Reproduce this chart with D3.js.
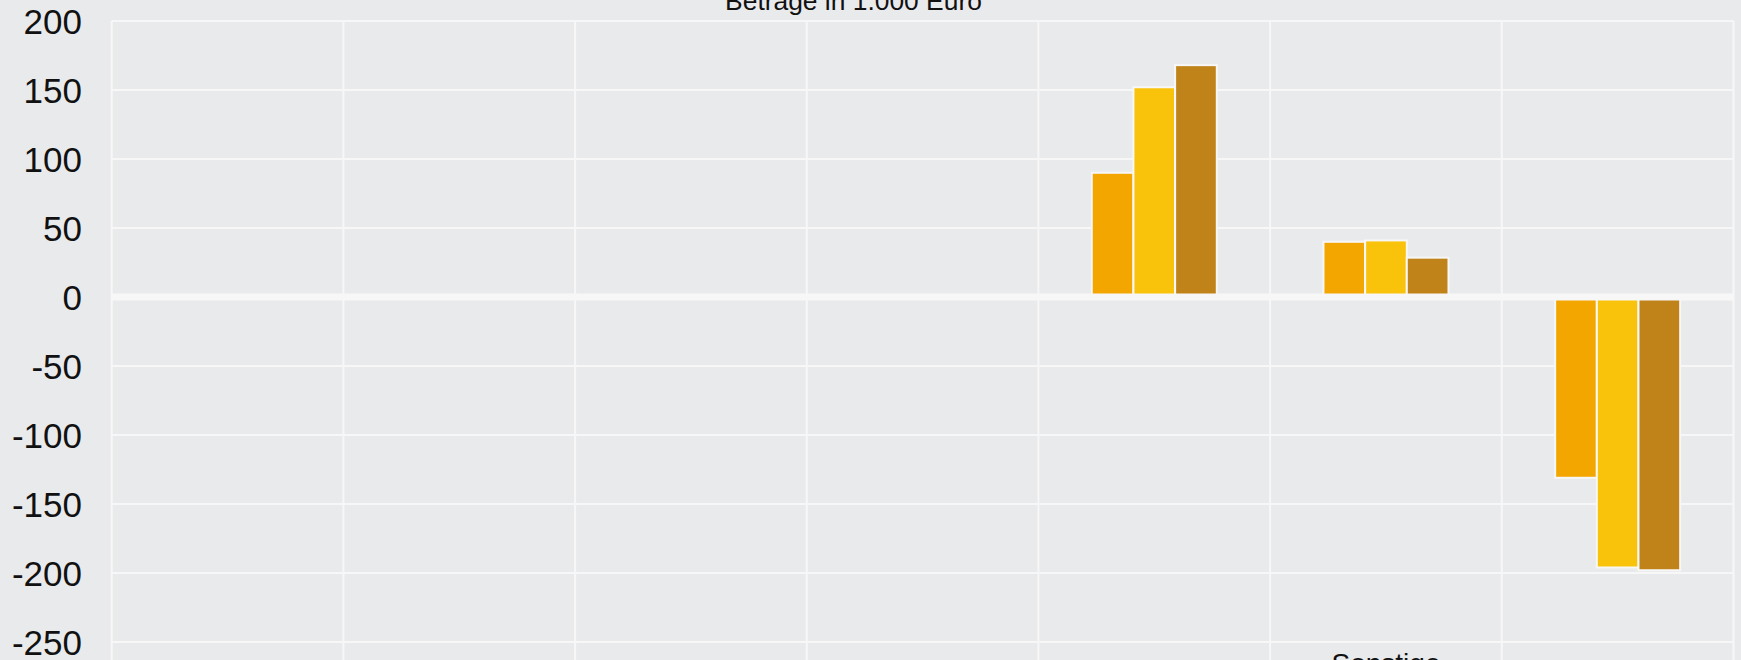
<!DOCTYPE html>
<html>
<head>
<meta charset="utf-8">
<script src="https://cdn.jsdelivr.net/npm/d3@7"></script>
<style>
    body { margin: 0; background: #e9eaec; }
    svg { display: block; font-family: "Liberation Sans", Arial, sans-serif; }
</style>
</head>
<body>
<svg id="chart"></svg>
<script>
// data
const categories = ["k1", "k2", "k3", "k4", "k5", "k6", "k7"];
const tickLabels = ["", "", "", "", "", "Sonstige", ""];
const seriesNames = ["s1", "s2", "s3"];
const series1 = [null, null, null, null, 90, 40, -131];
const series2 = [null, null, null, null, 152, 41, -196];
const series3 = [null, null, null, null, 168, 28.5, -198];
const yTicks = [200, 150, 100, 50, 0, -50, -100, -150, -200, -250];
const colors = ["#f4a600", "#fac30b", "#c0831a"];
const title = "Beträge in 1.000 Euro";

class GroupedBars {
    margin = {
        top: 21, right: 7.5, bottom: 18, left: 111.7
    }

    constructor(svg, width = 1741, height = 660) {
        this.svg = svg;
        this.width = width;
        this.height = height;
    }

    initialize() {
        this.svg = d3.select(this.svg)
            .attr("width", this.width)
            .attr("height", this.height);

        this.svg.append("rect")
            .attr("width", this.width)
            .attr("height", this.height)
            .attr("fill", "#e9eaec");

        this.innerW = this.width - this.margin.left - this.margin.right;
        this.innerH = this.height - this.margin.top - this.margin.bottom;

        this.xScale = d3.scaleBand().domain(categories)
            .range([this.margin.left, this.margin.left + this.innerW]).padding(0);
        this.x1Scale = d3.scaleBand().domain(seriesNames)
            .range([0, this.xScale.bandwidth()]).paddingInner(0).paddingOuter(1.28);
        this.yScale = d3.scaleLinear().domain([-250, 200])
            .range([this.margin.top + this.innerH, this.margin.top]);
        this.zScale = d3.scaleOrdinal().domain(seriesNames).range(colors);

        this.grid = this.svg.append("g");
        this.container = this.svg.append("g");
        this.zero = this.svg.append("g");
        this.yAxis = this.svg.append("g");
        this.xAxis = this.svg.append("g");
    }

    update() {
        const y = this.yScale;
        const x = this.xScale;
        const x0 = this.margin.left, x1 = this.margin.left + this.innerW;

        // horizontal grid lines
        this.grid.selectAll("line.h")
            .data(yTicks.filter(d => d !== 0))
            .join("line")
            .attr("class", "h")
            .attr("x1", x0).attr("x2", x1)
            .attr("y1", d => y(d)).attr("y2", d => y(d))
            .attr("stroke", "#f7f7f7")
            .attr("stroke-width", 2);

        // vertical grid lines at category boundaries
        const bounds = categories.map(c => x(c)).concat([x1]);
        this.grid.selectAll("line.v")
            .data(bounds)
            .join("line")
            .attr("class", "v")
            .attr("x1", d => d).attr("x2", d => d)
            .attr("y1", this.margin.top).attr("y2", this.height)
            .attr("stroke", "#f7f7f7")
            .attr("stroke-width", 2);

        const rows = [];
        categories.forEach((c, i) => {
            [series1, series2, series3].forEach((s, j) => {
                if (s[i] !== null) rows.push({ cat: c, key: seriesNames[j], value: s[i] });
            });
        });

        this.container.selectAll("rect")
            .data(rows)
            .join("rect")
            .attr("x", d => x(d.cat) + this.x1Scale(d.key))
            .attr("y", d => y(Math.max(0, d.value)))
            .attr("width", this.x1Scale.bandwidth())
            .attr("height", d => Math.abs(y(d.value) - y(0)))
            .attr("fill", d => this.zScale(d.key))
            .attr("stroke", "#f7f7f7")
            .attr("stroke-width", 2);

        // thick zero line drawn over the bars
        this.zero.append("line")
            .attr("x1", x0).attr("x2", x1)
            .attr("y1", y(0)).attr("y2", y(0))
            .attr("stroke", "#f7f7f7")
            .attr("stroke-width", 7);

        this.yAxis.selectAll("text")
            .data(yTicks)
            .join("text")
            .attr("x", 82)
            .attr("y", d => y(d))
            .attr("dy", "0.36em")
            .attr("text-anchor", "end")
            .attr("font-size", 35)
            .attr("fill", "#111")
            .text(d => d);

        this.xAxis.selectAll("text")
            .data(categories)
            .join("text")
            .attr("x", d => x(d) + x.bandwidth() / 2)
            .attr("y", 673)
            .attr("text-anchor", "middle")
            .attr("font-size", 28)
            .attr("fill", "#111")
            .text((d, i) => tickLabels[i]);

        this.svg.append("text")
            .attr("x", 853.5)
            .attr("y", 10)
            .attr("text-anchor", "middle")
            .attr("font-size", 26.4)
            .attr("fill", "#111")
            .text(title);
    }
}

const chart = new GroupedBars(document.getElementById("chart"));
chart.initialize();
chart.update();
</script>
</body>
</html>
